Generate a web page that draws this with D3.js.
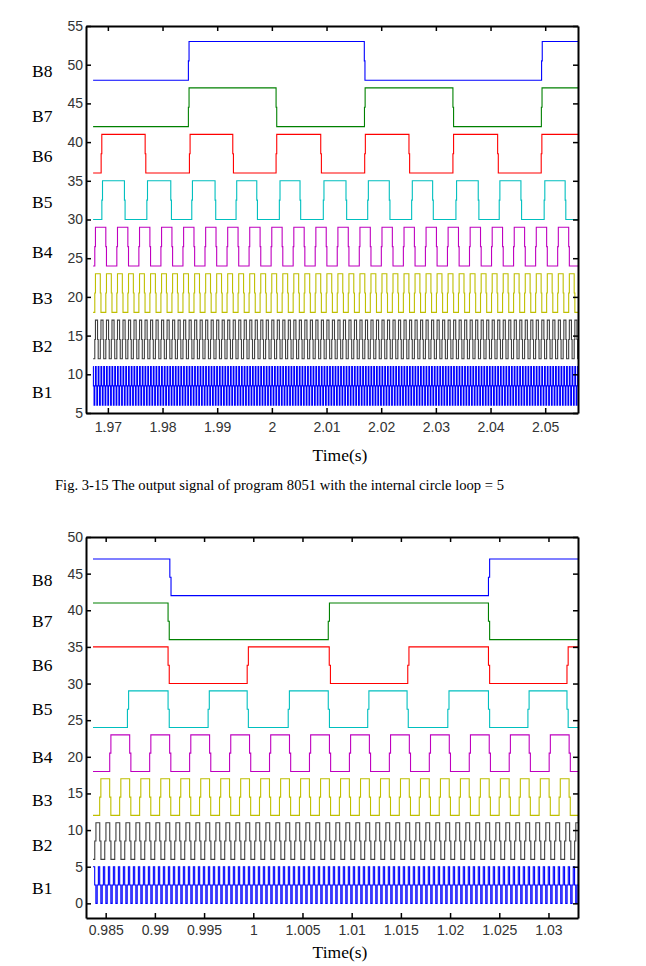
<!DOCTYPE html>
<html>
<head>
<meta charset="utf-8">
<script src="https://cdn.jsdelivr.net/npm/d3@7"></script>
<style>
  body { margin: 0; background: #fff; }
</style>
</head>
<body>
<svg id="page" width="646" height="966"></svg>
<script>
// channel names / colours (MATLAB default order as in the plot)
const channelNames  = ["B1", "B2", "B3", "B4", "B5", "B6", "B7", "B8"];
const channelColors = ["#0000ff", "#404040", "#bfbf00", "#bf00bf", "#00bfbf", "#ff0000", "#008000", "#0000ff"];
const swing = 5;             // high level - low level
const sampleStep = 0.00012;  // half-way sample on every edge

// ---- Fig. 3-15 (top) ----
const topXTicks = [1.97, 1.98, 1.99, 2, 2.01, 2.02, 2.03, 2.04, 2.05];
const topYTicks = [5, 10, 15, 20, 25, 30, 35, 40, 45, 50, 55];
const topLows   = [6, 12, 18, 24, 30, 36, 42, 48];
const topLabelAt = [7.7, 13.7, 19.9, 25.8, 32.3, 38.2, 43.4, 49.2];
const topSpan   = [1.9673, 2.056];
// B1..B4: one rising edge and the half period
const topFastRise = [1.97164, 1.97164, 1.97164, 1.97164];
const topFastHalf = [0.000252, 0.000504, 0.001008, 0.002016];
// B5..B8: start level and every edge
const topSlowStart = [0, 0, 0, 0];
const topB5 = [1.96890, 1.97303, 1.97713, 1.98151, 1.98535, 1.98961, 1.99345, 1.99724, 2.00137, 2.00515,
               2.00941, 2.01356, 2.01753, 2.02148, 2.02557, 2.02941, 2.03367, 2.03775, 2.04159, 2.04556,
               2.04981, 2.05365];
const topB6 = [1.96877, 1.97682, 1.98492, 1.99285, 2.00077, 2.00894, 2.01698, 2.02508, 2.03312, 2.04130, 2.04927];
const topB7 = [1.98473, 2.00077, 2.01694, 2.03312, 2.04930];
const topB8 = [1.98473, 2.01691, 2.04934];

// ---- second figure (bottom) ----
const botXTicks = [0.985, 0.99, 0.995, 1, 1.005, 1.01, 1.015, 1.02, 1.025, 1.03];
const botYTicks = [0, 5, 10, 15, 20, 25, 30, 35, 40, 45, 50];
const botLows   = [0, 6, 12, 18, 24, 30, 36, 42];
const botLabelAt = [2.05, 8.0, 14.1, 20.0, 26.6, 32.6, 38.6, 44.2];
const botSpan   = [0.98371, 1.033];
const botFastRise = [0.98363, 0.98389, 0.98439, 0.98541];
const botFastHalf = [0.000254, 0.000508, 0.001015, 0.002030];
const botSlowStart = [0, 1, 1, 1];
const botB5 = [0.98721, 0.99134, 0.99541, 0.99938, 1.00355, 1.00762, 1.01163, 1.01563, 1.01977, 1.02390,
               1.02791, 1.03188];
const botB6 = [0.99134, 0.99938, 1.00772, 1.01570, 1.02390, 1.03188];
const botB7 = [0.99134, 1.00762, 1.02390];
const botB8 = [0.99152, 1.02390];

const captionText = "Fig. 3-15 The output signal of program 8051 with the internal circle loop = 5";

const svg = d3.select("#page");

function fastEdges(span, rise, half) {
    let n = Math.ceil((span[0] - rise) / half);
    const start = ((n % 2) + 2) % 2 === 0 ? 0 : 1;
    const edges = [];
    for (let t = rise + n * half; t < span[1]; n++, t = rise + n * half) edges.push(t);
    return { start, edges };
}

function wavePoints(span, start, edges, low) {
    let lvl = start;
    const pts = [[span[0], low + lvl * swing]];
    edges.filter(t => t > span[0] && t < span[1]).forEach(t => {
        const from = low + lvl * swing, to = low + (1 - lvl) * swing, mid = low + swing / 2;
        pts.push([t, from], [t, mid], [t + sampleStep, mid], [t + sampleStep, to]);
        lvl = 1 - lvl;
    });
    pts.push([span[1], low + lvl * swing]);
    return pts;
}

function drawPanel(p) {
    const x = d3.scaleLinear().domain(p.xDomain).range([p.left, p.right]);
    const y = d3.scaleLinear().domain(p.yDomain).range([p.bottom, p.top]);

    svg.append("clipPath").attr("id", p.id + "-clip")
       .append("rect")
       .attr("x", p.left).attr("y", p.top)
       .attr("width", p.right - p.left).attr("height", p.bottom - p.top);

    const line = d3.line().x(d => x(d[0])).y(d => y(d[1]));

    const waves = channelNames.map((name, i) => {
        if (i < 4) {
            const f = fastEdges(p.span, p.fastRise[i], p.fastHalf[i]);
            return wavePoints(p.span, f.start, f.edges, p.lows[i]);
        }
        return wavePoints(p.span, p.slowStart[i - 4], p.slow[i - 4], p.lows[i]);
    });

    svg.append("g").attr("clip-path", "url(#" + p.id + "-clip)")
       .selectAll("path")
       .data(waves)
       .enter()
       .append("path")
       .attr("d", line)
       .attr("fill", "none")
       .attr("stroke", (d, i) => channelColors[i])
       .attr("stroke-width", 1.1);

    // MATLAB style box, ticks inward
    const fmt = d3.format("~g");
    const axes = [
        { ax: d3.axisLeft(y).tickValues(p.yTicks).tickFormat(fmt).tickPadding(3), tr: [p.left, 0] },
        { ax: d3.axisRight(y).tickValues(p.yTicks).tickFormat(""), tr: [p.right, 0] },
        { ax: d3.axisBottom(x).tickValues(p.xTicks).tickFormat(fmt).tickPadding(p.xPad), tr: [0, p.bottom] },
        { ax: d3.axisTop(x).tickValues(p.xTicks).tickFormat(""), tr: [0, p.top] }
    ];
    axes.forEach(a => {
        const g = svg.append("g")
           .attr("transform", "translate(" + a.tr[0] + "," + a.tr[1] + ")")
           .call(a.ax.tickSizeInner(-5).tickSizeOuter(0));
        g.select(".domain").attr("stroke", "#000").attr("stroke-width", 2);
        g.selectAll(".tick line").attr("stroke", "#000").attr("stroke-width", 1.5);
        g.selectAll(".tick text")
         .attr("font-family", "'Liberation Sans', Arial, sans-serif")
         .attr("font-size", 14).attr("fill", "#333");
    });

    svg.append("g").selectAll("text")
       .data(channelNames)
       .enter()
       .append("text")
       .attr("x", 32).attr("y", (d, i) => y(p.labelAt[i]))
       .attr("dy", "0.35em")
       .attr("font-family", "'Liberation Serif', 'Times New Roman', serif")
       .attr("font-size", 17.5)
       .text(d => d);

    svg.append("text")
       .attr("x", 340).attr("y", p.titleY).attr("dy", "0.35em")
       .attr("text-anchor", "middle")
       .attr("font-family", "'Liberation Serif', 'Times New Roman', serif")
       .attr("font-size", 17.5)
       .text("Time(s)");
}

drawPanel({
    id: "top", left: 86, right: 578, top: 26, bottom: 413, xPad: 9, titleY: 455,
    xDomain: [1.966, 2.056], yDomain: [5, 55],
    xTicks: topXTicks, yTicks: topYTicks, lows: topLows, labelAt: topLabelAt,
    span: topSpan, fastRise: topFastRise, fastHalf: topFastHalf,
    slowStart: topSlowStart, slow: [topB5, topB6, topB7, topB8]
});

drawPanel({
    id: "bot", left: 86, right: 578, top: 537, bottom: 918, xPad: 7.5, titleY: 952,
    xDomain: [0.983, 1.033], yDomain: [-2, 50],
    xTicks: botXTicks, yTicks: botYTicks, lows: botLows, labelAt: botLabelAt,
    span: botSpan, fastRise: botFastRise, fastHalf: botFastHalf,
    slowStart: botSlowStart, slow: [botB5, botB6, botB7, botB8]
});

svg.append("text")
   .attr("x", 55).attr("y", 485).attr("dy", "0.35em")
   .attr("font-family", "'Liberation Serif', 'Times New Roman', serif")
   .attr("font-size", 15.5)
   .attr("textLength", 449).attr("lengthAdjust", "spacingAndGlyphs")
   .text(captionText);
</script>
</body>
</html>
